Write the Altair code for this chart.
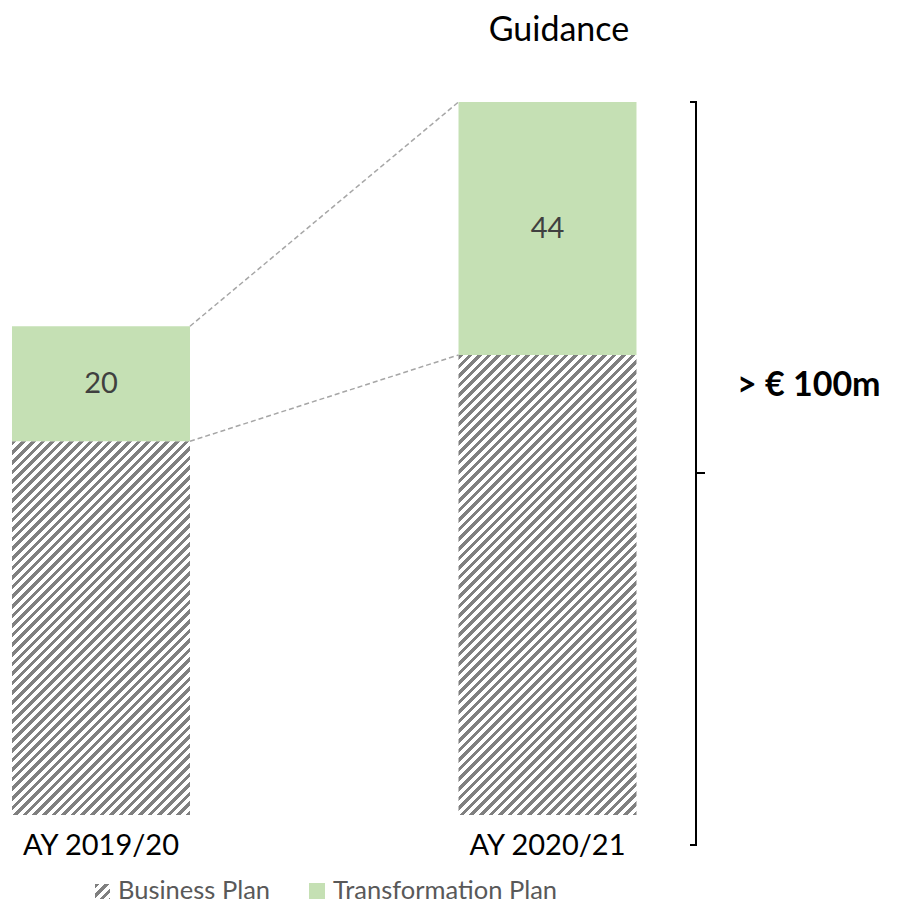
import altair as alt
import pandas as pd

# ---- data ----
categories = ["AY 2019/20", "AY 2020/21"]
business_plan = [65, 80]
transformation_plan = [20, 44]
legend_labels = ["Business Plan", "Transformation Plan"]
title_text = "Guidance"
bracket_text = "> € 100m"

# ---- layout / style ----
W, H = 884, 896
X_DOMAIN = [-0.20829, 1.77156]   # 446.5 px per category step
X_PX = W / (X_DOMAIN[1] - X_DOMAIN[0])
HALF = 0.1993                    # half bar width in category units
Y_DOMAIN = [-15.478, 140.348]    # 5.75 px per unit
Y_PX = H / (Y_DOMAIN[1] - Y_DOMAIN[0])
GREEN = "#C5E0B4"
HATCH = "#808080"
FONT = "Lato"

xs = alt.Scale(domain=X_DOMAIN, nice=False, zero=False)
ys = alt.Scale(domain=Y_DOMAIN, nice=False, zero=False)


def hatch(w, h, period=9.6, frac=0.48):
    L = (w * w + h * h) / w
    dt = period / L
    stops = []
    t = 0.0
    while t < 1.0:
        b = min(t + dt * frac, 1.0)
        c = min(t + dt, 1.0)
        stops += [
            {"offset": round(t, 6), "color": HATCH},
            {"offset": round(b, 6), "color": HATCH},
            {"offset": round(b, 6), "color": "#FFFFFF"},
            {"offset": round(c, 6), "color": "#FFFFFF"},
        ]
        t += dt
    return {"gradient": "linear", "x1": 0, "y1": 0, "x2": 1, "y2": h / w, "stops": stops}


idx = list(range(len(categories)))
df = pd.DataFrame({"cat": categories, "i": idx, "bp": business_plan, "tp": transformation_plan})
df["top"] = df["bp"] + df["tp"]
df["mid"] = df["bp"] + df["tp"] / 2

base = alt.Chart(df).transform_calculate(
    x0=f"datum.i - {HALF}", x1=f"datum.i + {HALF}", zero="0"
)

layers = []

# business plan bars (hatched), one layer per bar because hatch depends on size
bar_w = 2 * HALF * X_PX
for k in idx:
    h = business_plan[k] * Y_PX
    layers.append(
        base.transform_filter(f"datum.i == {k}")
        .mark_rect(fill=hatch(bar_w, h))
        .encode(
            x=alt.X("x0:Q", scale=xs, axis=None),
            x2="x1:Q",
            y=alt.Y("zero:Q", scale=ys, axis=None),
            y2="bp:Q",
        )
    )

# transformation plan bars
layers.append(
    base.mark_rect(fill=GREEN).encode(
        x=alt.X("x0:Q", scale=xs, axis=None),
        x2="x1:Q",
        y=alt.Y("bp:Q", scale=ys, axis=None),
        y2="top:Q",
    )
)

# value labels
layers.append(
    base.mark_text(font=FONT, fontSize=29, color="#404040", baseline="middle").encode(
        x=alt.X("i:Q", scale=xs, axis=None),
        y=alt.Y("mid:Q", scale=ys, axis=None),
        text="tp:Q",
    )
)

# category labels
layers.append(
    base.mark_text(font=FONT, fontSize=29, color="#000000", baseline="middle").encode(
        x=alt.X("i:Q", scale=xs, axis=None),
        y=alt.value(838),
        text="cat:N",
    )
)

# dashed connectors between bars
conn = pd.DataFrame({
    "a": [idx[0], idx[0]],
    "b": [idx[1], idx[1]],
    "ya": [df["top"][0], df["bp"][0]],
    "yb": [df["top"][1], df["bp"][1]],
})
layers.append(
    alt.Chart(conn)
    .transform_calculate(xa=f"datum.a + {HALF}", xb=f"datum.b - {HALF}")
    .mark_rule(color="#A6A6A6", strokeWidth=1.5, strokeDash=[5, 3])
    .encode(
        x=alt.X("xa:Q", scale=xs, axis=None),
        x2="xb:Q",
        y=alt.Y("ya:Q", scale=ys, axis=None),
        y2="yb:Q",
    )
)

# bracket
one = pd.DataFrame({"k": [0]})
br = alt.Chart(one).mark_rule(color="#000000", strokeWidth=2)
layers += [
    br.encode(x=alt.value(688), y=alt.value(94), y2=alt.value(837)),
    br.encode(x=alt.value(682), x2=alt.value(689), y=alt.value(94)),
    br.encode(x=alt.value(682), x2=alt.value(689), y=alt.value(837)),
    br.encode(x=alt.value(688), x2=alt.value(697), y=alt.value(465)),
]

# title and bracket annotation
layers.append(
    alt.Chart(pd.DataFrame({"t": [title_text]}))
    .mark_text(font=FONT, fontSize=34, color="#000000", baseline="middle", align="center")
    .encode(x=alt.value(551), y=alt.value(23), text="t:N")
)
layers.append(
    alt.Chart(pd.DataFrame({"t": [bracket_text]}))
    .mark_text(font=FONT, fontSize=34, fontWeight="bold", color="#000000", baseline="middle", align="left")
    .encode(x=alt.value(729), y=alt.value(378), text="t:N")
)

# legend
layers.append(
    alt.Chart(one).mark_rect(fill=hatch(15, 15)).encode(
        x=alt.value(87), x2=alt.value(102), y=alt.value(876), y2=alt.value(891)
    )
)
layers.append(
    alt.Chart(one).mark_rect(fill=GREEN).encode(
        x=alt.value(301), x2=alt.value(317), y=alt.value(875), y2=alt.value(891)
    )
)
layers.append(
    alt.Chart(pd.DataFrame({"t": [legend_labels[0]]}))
    .mark_text(font=FONT, fontSize=25.5, color="#595959", baseline="alphabetic", align="left")
    .encode(x=alt.value(110), y=alt.value(891), text="t:N")
)
layers.append(
    alt.Chart(pd.DataFrame({"t": [legend_labels[1]]}))
    .mark_text(font=FONT, fontSize=25.5, color="#595959", baseline="alphabetic", align="left")
    .encode(x=alt.value(325), y=alt.value(891), text="t:N")
)

chart = (
    alt.layer(*layers)
    .properties(width=W, height=H, autosize=alt.AutoSizeParams(type="none"), padding=0)
    .configure_view(stroke=None)
)

chart.save("out.html", embed_options={"renderer": "svg", "actions": False})
